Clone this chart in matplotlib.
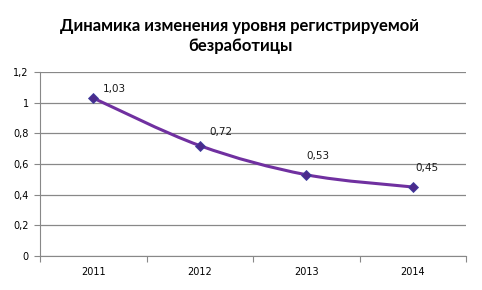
import matplotlib
matplotlib.use("Agg")
import matplotlib.pyplot as plt
from matplotlib.path import Path
from matplotlib.patches import PathPatch
import numpy as np

years = ["2011", "2012", "2013", "2014"]
values = [1.03, 0.72, 0.53, 0.45]
value_labels = ["1,03", "0,72", "0,53", "0,45"]
yticks = [0, 0.2, 0.4, 0.6, 0.8, 1.0, 1.2]
ytick_labels = ["0", "0,2", "0,4", "0,6", "0,8", "1", "1,2"]
title = "Динамика изменения уровня регистрируемой\nбезработицы"

# label offsets in pixels (style)
label_dx = [10, 10, 0, 3]
label_dy = [9, 14, 19, 19]

W, H = 482, 290
fig = plt.figure(figsize=(W / 100, H / 100), dpi=100)
ax = fig.add_axes([40 / W, 1 - 256 / H, (466 - 40) / W, (256 - 72) / H])

x = np.arange(len(years))
ax.set_xlim(-0.5, len(years) - 0.5)
ax.set_ylim(0, 1.2)

# smooth (Catmull-Rom -> Bezier) line through data
pts = np.column_stack([x, values]).astype(float)
verts = [tuple(pts[0])]
codes = [Path.MOVETO]
n = len(pts)
for i in range(n - 1):
    p0 = pts[max(i - 1, 0)]
    p1 = pts[i]
    p2 = pts[i + 1]
    p3 = pts[min(i + 2, n - 1)]
    c1 = p1 + (p2 - p0) / 6.0
    c2 = p2 - (p3 - p1) / 6.0
    verts += [tuple(c1), tuple(c2), tuple(p2)]
    codes += [Path.CURVE4] * 3
ax.add_patch(PathPatch(Path(verts, codes), facecolor="none", edgecolor="#7030A0", lw=2.2, zorder=3))
ax.plot(x, values, linestyle="none", marker="D", markersize=5, color="#4B2A8C",
        markeredgecolor="#3F3F9F", markeredgewidth=0.6, zorder=4)

for xi, v, lab, dx, dy in zip(x, values, value_labels, label_dx, label_dy):
    ax.annotate(lab, (xi, v), xytext=(dx, dy), textcoords="offset pixels",
                fontsize=7.5, color="#1a1a1a", ha="left", va="center")

ax.set_yticks(yticks)
ax.set_yticklabels(ytick_labels, fontsize=7)
ax.yaxis.grid(True, color="#888888", lw=0.9)
ax.set_axisbelow(True)
ax.set_xticks(np.arange(-0.5, len(years), 1.0))
ax.set_xticklabels([])
ax.set_xticks(x, minor=True)
ax.set_xticklabels(years, minor=True, fontsize=7)
ax.tick_params(axis="x", which="minor", length=0, pad=8)
ax.tick_params(axis="x", which="major", length=4, color="#888888", direction="out")
ax.tick_params(axis="y", length=4, color="#888888", direction="out", pad=4)

for s in ["top", "right"]:
    ax.spines[s].set_visible(False)
ax.spines["left"].set_color("#888888")
ax.spines["bottom"].set_color("#888888")

fig.text(240 / W, 1 - 36 / H, title, ha="center", va="center", fontsize=12,
         fontweight="bold", family="Lato", linespacing=1.35)

fig.savefig("out.png", dpi=100)
